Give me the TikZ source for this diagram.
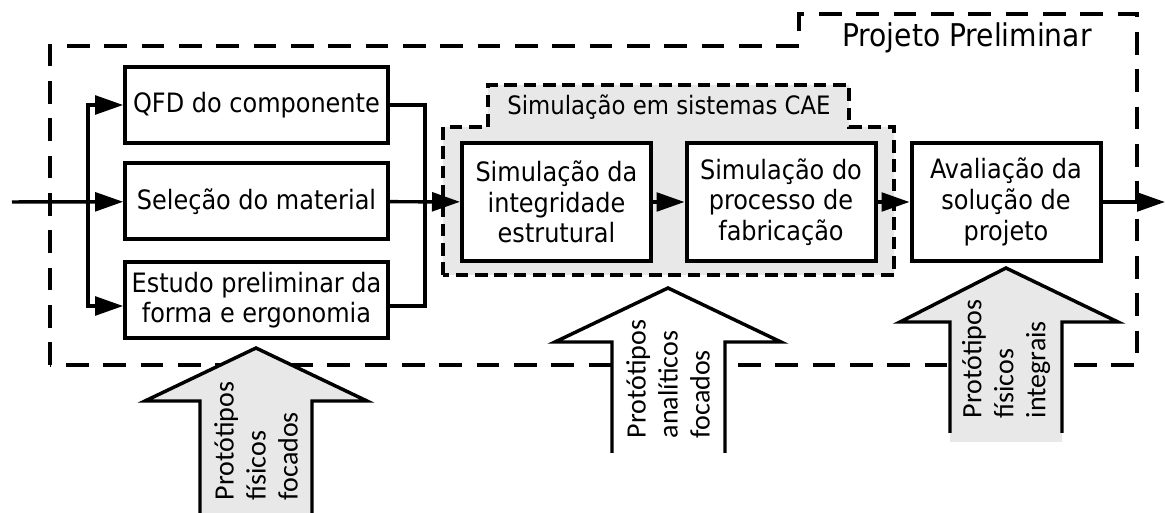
\documentclass[tikz,border=0pt]{standalone}
\usepackage{fontspec}
\setmainfont{DejaVu Sans Condensed}
\newfontfamily\protofont{Carlito}
\usepackage{tikz}
\usetikzlibrary{arrows.meta}
\usepackage{xcolor}
\definecolor{lightshade}{gray}{0.91}

\begin{document}
\begin{tikzpicture}[x=0.75pt, y=-0.75pt, >={Triangle[length=21pt,width=14pt]},
  line width=2.6pt,
  stage/.style={draw, line width=3pt, fill=white, align=center, inner sep=0pt,
    font=\fontsize{20}{23}\selectfont},
  wide/.style={stage, minimum width=197pt, minimum height=57pt},
  tall/.style={stage, minimum width=141.75pt, minimum height=88.5pt},
  proto/.style={rotate=90, anchor=west, align=left, inner sep=0pt,
    font=\protofont\fontsize{21}{24}\selectfont},
  bigarrow/.style={line width=2.6pt, miter limit=20}]
\useasboundingbox (0,0) rectangle (1165,513);

% outer phase and the CAE group
\draw[dash pattern=on 17pt off 11pt, line width=2.6pt]
  (50,365) -- (50,46) -- (799,46) -- (799,14) -- (1137,14) -- (1137,365) -- cycle;
\node[anchor=base, font=\fontsize{23.5}{26}\selectfont] (phase) at (967,47) {Projeto Preliminar};
\draw[fill=lightshade, dash pattern=on 9.5pt off 5pt, line width=2.6pt]
  (443,275) -- (443,127) -- (488,127) -- (488,85) -- (849,85) -- (849,127)
  -- (894,127) -- (894,275) -- cycle;
\node[anchor=base, font=\fontsize{19}{22}\selectfont] (cae) at (669,115) {Simulação em sistemas CAE};

% stages
\node[wide] (qfd) at (256.5,105) {QFD do componente};
\node[wide] (mat) at (256.5,201.5) {Seleção do material};
\node[wide] (form) at (256.5,300) {Estudo preliminar da\\forma e ergonomia};
\node[tall] (integ) at (556.5,202) {Simulação da\\integridade\\estrutural};
\node[tall] (fab) at (781,202) {Simulação do\\processo de\\fabricação};
\node[tall] (aval) at (1006,202) {Avaliação da\\solução de\\projeto};

% connectors
\coordinate (in) at (12,202);
\coordinate (split) at (88,202);
\coordinate (merge) at (425,202);
\coordinate (out) at (1165,202);
\draw[->] (in) -- (mat);
\draw[->] (split) |- (qfd.west);
\draw[->] (split) |- ([yshift=-4.5pt]form.west);
\draw (qfd.east) -| (merge) |- ([yshift=-4.5pt]form.east);
\draw[->] (mat) -- (integ);
\draw[->] (integ) -- (fab);
\draw[->] (fab) -- (aval);
\draw[->] (aval) -- (out);

% prototype arrows
\draw[bigarrow, fill=lightshade]
  (200,530) -- (200,401) -- (145,401) -- (256,348) -- (367,401) -- (312,401) -- (312,530);
\node[proto] (pfis) at (256,502) {Protótipos\\físicos\\focados};
\draw[bigarrow, fill=white]
  (612,453) -- (612,342) -- (555,342) -- (668,288) -- (781,342) -- (725,342) -- (725,453);
\node[proto] (pana) at (668,440) {Protótipos\\analíticos\\focados};
\fill[lightshade]
  (950,442) -- (950,322) -- (900,322) -- (1006,268) -- (1118,322) -- (1062,322) -- (1062,442) -- cycle;
\draw[bigarrow]
  (950,433) -- (950,322) -- (900,322) -- (1006,268) -- (1118,322) -- (1062,322) -- (1062,433);
\node[proto] (pint) at (1006,420) {Protótipos\\físicos\\integrais};
\end{tikzpicture}
\end{document}
